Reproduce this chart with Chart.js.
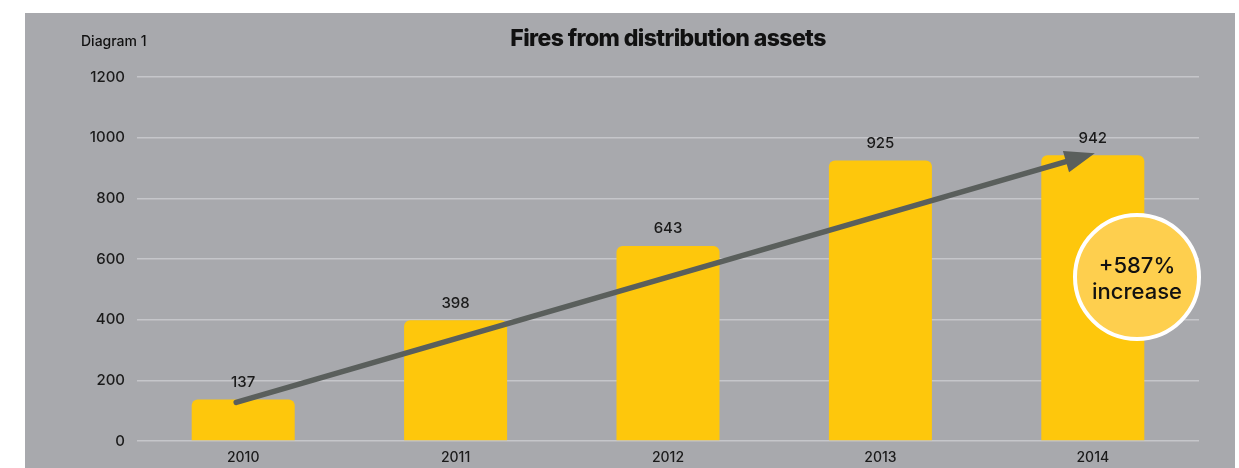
<!DOCTYPE html>
<html>
<head>
<meta charset="utf-8">
<script src="https://cdn.jsdelivr.net/npm/chart.js@4"></script>
<style>
  html, body { margin: 0; padding: 0; background: #fff; }
  #wrap { width: 1239px; height: 468px; position: relative; }
</style>
</head>
<body>
<div id="wrap"><canvas id="fires"></canvas></div>
<script>
// Fires from distribution assets, per year
const years = ["2010", "2011", "2012", "2013", "2014"];
const fires = [137, 398, 643, 925, 942];
const yTicks = [0, 200, 400, 600, 800, 1000, 1200];
const changeText = ["+587%", "increase"];

const FONT = "Inter, 'Noto Sans', sans-serif";

// grey panel, heading, value labels, trend arrow and the badge
const decor = {
  id: "decor",
  beforeDraw(chart) {
    const ctx = chart.ctx;
    ctx.save();
    ctx.fillStyle = "#a8a9ad";
    ctx.fillRect(25, 13, 1210, 455);
    ctx.restore();
  },
  afterDatasetsDraw(chart) {
    const ctx = chart.ctx;
    const bars = chart.getDatasetMeta(0).data;
    ctx.save();

    // heading
    ctx.fillStyle = "#111";
    ctx.textAlign = "center";
    ctx.textBaseline = "middle";
    ctx.font = "800 23px " + FONT;
    ctx.letterSpacing = "-0.6px";
    ctx.fillText("Fires from distribution assets", 668, 39);
    ctx.letterSpacing = "0px";
    ctx.textAlign = "left";
    ctx.font = "500 14px " + FONT;
    ctx.fillText("Diagram 1", 81, 42);

    // numbers above the bars
    ctx.textAlign = "center";
    ctx.font = "500 15px " + FONT;
    ctx.fillStyle = "#1a1a1a";
    bars.forEach((b, i) => ctx.fillText(String(fires[i]), b.x, b.y - 17));

    // trend arrow from first to last bar
    const first = bars[0], last = bars[bars.length - 1];
    const x0 = first.x - 7, y0 = first.y + 3;
    const x1 = last.x + 2, y1 = last.y - 2;
    const ang = Math.atan2(y1 - y0, x1 - x0);
    const headLen = 30, headW = 11;
    const bx = x1 - headLen * Math.cos(ang), by = y1 - headLen * Math.sin(ang);
    ctx.strokeStyle = "#5a5f5c";
    ctx.fillStyle = "#5a5f5c";
    ctx.lineWidth = 5.5;
    ctx.lineCap = "round";
    ctx.beginPath();
    ctx.moveTo(x0, y0);
    ctx.lineTo(bx, by);
    ctx.stroke();
    ctx.beginPath();
    ctx.moveTo(x1, y1);
    ctx.lineTo(bx + headW * Math.sin(ang), by - headW * Math.cos(ang));
    ctx.lineTo(bx - headW * Math.sin(ang), by + headW * Math.cos(ang));
    ctx.closePath();
    ctx.fill();

    // percentage badge
    const cx = 1137, cy = 277, r = 62;
    ctx.beginPath();
    ctx.arc(cx, cy, r, 0, Math.PI * 2);
    ctx.fillStyle = "#fecf4e";
    ctx.fill();
    ctx.lineWidth = 4;
    ctx.strokeStyle = "#fff";
    ctx.stroke();
    ctx.fillStyle = "#111";
    ctx.font = "500 22px " + FONT;
    ctx.fillText(changeText[0], cx, cy - 11);
    ctx.fillText(changeText[1], cx, cy + 15);
    ctx.restore();
  }
};

new Chart(document.getElementById("fires"), {
  type: "bar",
  data: {
    labels: years,
    datasets: [{
      data: fires,
      backgroundColor: "#fec70c",
      borderRadius: 6,
      borderSkipped: "bottom",
      categoryPercentage: 1,
      barPercentage: 0.485
    }]
  },
  options: {
    responsive: true,
    maintainAspectRatio: false,
    animation: false,
    layout: { padding: { left: 0, right: 40, top: 77, bottom: 0 } },
    plugins: { legend: { display: false }, tooltip: { enabled: false } },
    scales: {
      x: {
        grid: { display: false, drawTicks: false },
        border: { display: false },
        ticks: { color: "#1a1a1a", font: { family: FONT, size: 14, weight: "500" }, padding: 8 },
        afterFit(s) { s.height = 27; }
      },
      y: {
        min: 0,
        max: 1200,
        afterBuildTicks(s) { s.ticks = yTicks.map(v => ({ value: v })); },
        grid: { color: "#c5c6ca", lineWidth: 1.5, drawTicks: false },
        border: { display: false },
        ticks: {
          color: "#1a1a1a",
          font: { family: FONT, size: 15, weight: "500" },
          padding: 12,
          callback: v => String(v)
        },
        afterFit(s) { s.width = 137; }
      }
    }
  },
  plugins: [decor]
});
</script>
</body>
</html>
